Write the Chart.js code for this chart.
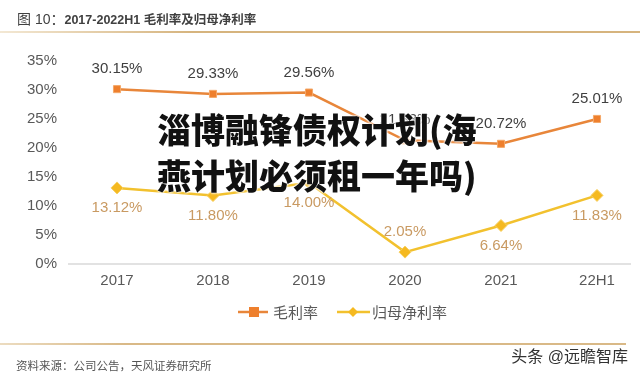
<!DOCTYPE html>
<html>
<head>
<meta charset="utf-8">
<script src="https://cdn.jsdelivr.net/npm/chart.js@4"></script>
<style>
  html, body { margin: 0; padding: 0; background: #fff; }
  .wrap { position: relative; width: 640px; height: 374px; overflow: hidden;
          font-family: "Liberation Sans", "Noto Sans CJK SC", sans-serif; }
  #myChart { position: absolute; left: 0; top: 0; }
  .title { position: absolute; left: 17px; top: 8px; color: #404040; white-space: nowrap; }
  .title .a { font-size: 14px; }
  .title .b { font-size: 12.5px; font-weight: bold; }
  .rule-top { position: absolute; left: 0; top: 31px; width: 640px; height: 2px;
              background: linear-gradient(to right, #f3e8d4, #d6b47e 30%, #d6b47e); }
  .rule-bottom { position: absolute; left: 0; top: 343px; width: 626px; height: 2px;
                 background: linear-gradient(to right, #ecdcc0, #d9b987 20%, #d9b987); }
  .source { position: absolute; left: 16px; top: 357px; font-size: 11.5px; color: #555; white-space: nowrap; }
  .mark { position: absolute; right: 12px; top: 343px; font-size: 16px; color: #333; white-space: nowrap; }
  .overlay { position: absolute; left: 157px; top: 106px; font-size: 34px; line-height: 46px;
             font-weight: 900; color: #111; font-family: "Noto Sans CJK SC", sans-serif; white-space: nowrap;
             text-shadow: 0 0 2px #fff, 0 0 2px #fff, 0 0 3px #fff; }
</style>
</head>
<body>
<div class="wrap">
  <canvas id="myChart" width="640" height="374"></canvas>
  <div class="title"><span class="a">图 10：</span><span class="b">2017-2022H1 毛利率及归母净利率</span></div>
  <div class="rule-top"></div>
  <div class="rule-bottom"></div>
  <div class="source">资料来源：公司公告，天风证券研究所</div>
  <div class="mark">头条 @远瞻智库</div>
  <div class="overlay">淄博融锋债权计划(海<br>燕计划必须租一年吗)</div>
</div>
<script>
// data
var years = ["2017", "2018", "2019", "2020", "2021", "22H1"];
var grossMargin = [30.15, 29.33, 29.56, 21.33, 20.72, 25.01];
var netMargin = [13.12, 11.80, 14.00, 2.05, 6.64, 11.83];
var yTicks = [0, 5, 10, 15, 20, 25, 30, 35];
var seriesNames = ["毛利率", "归母净利率"];

// label placement: -1 above the point, 1 below
var grossLabelSide = [-1, -1, -1, -1, -1, -1];
var netLabelSide = [1, 1, 1, -1, 1, 1];

var orange = '#e8863a';
var yellow = '#f2c12e';

// value labels + axis line + legend
const extras = {
  id: 'extras',
  beforeDatasetsDraw(chart) {
    const ctx = chart.ctx;
    const area = chart.chartArea;
    const y0 = chart.scales.y.getPixelForValue(0);
    ctx.save();
    ctx.strokeStyle = '#d9d9d9';
    ctx.lineWidth = 1.5;
    ctx.beginPath();
    ctx.moveTo(area.left - 49, y0);
    ctx.lineTo(area.right + 34, y0);
    ctx.stroke();
    ctx.restore();
  },
  afterDraw(chart) {
    const ctx = chart.ctx;
    ctx.save();
    ctx.font = '15px "Liberation Sans", sans-serif';
    ctx.textAlign = 'center';
    ctx.textBaseline = 'middle';
    const labelColors = ['#404040', '#c99a62'];
    const sides = [grossLabelSide, netLabelSide];
    chart.data.datasets.forEach((ds, d) => {
      const pts = chart.getDatasetMeta(d).data;
      ctx.fillStyle = labelColors[d];
      pts.forEach((pt, i) => {
        const txt = Number(ds.data[i]).toFixed(2) + '%';
        ctx.fillText(txt, pt.x, pt.y + sides[d][i] * 20);
      });
    });

    // legend
    const ly = 312;
    ctx.font = '15px "Noto Sans CJK SC", sans-serif';
    ctx.textAlign = 'left';
    ctx.lineWidth = 2.5;
    ctx.strokeStyle = orange;
    ctx.beginPath(); ctx.moveTo(238, ly); ctx.lineTo(268, ly); ctx.stroke();
    ctx.fillStyle = '#ee7f2d';
    ctx.fillRect(249, ly - 5, 10, 10);
    ctx.fillStyle = '#595959';
    ctx.fillText(seriesNames[0], 273, ly);
    ctx.strokeStyle = yellow;
    ctx.beginPath(); ctx.moveTo(337, ly); ctx.lineTo(370, ly); ctx.stroke();
    ctx.fillStyle = '#f5b920';
    ctx.beginPath();
    ctx.moveTo(353, ly - 5); ctx.lineTo(358, ly); ctx.lineTo(353, ly + 5); ctx.lineTo(348, ly);
    ctx.closePath(); ctx.fill();
    ctx.fillStyle = '#595959';
    ctx.fillText(seriesNames[1], 372, ly);
    ctx.restore();
  }
};

const data = {
  labels: years,
  datasets: [{
    label: seriesNames[0],
    data: grossMargin,
    borderColor: orange,
    backgroundColor: '#ee7f2d',
    borderWidth: 2.5,
    pointStyle: 'rect',
    pointRadius: 5,
    pointBorderColor: '#f4a868',
    pointBorderWidth: 1,
    tension: 0
  }, {
    label: seriesNames[1],
    data: netMargin,
    borderColor: yellow,
    backgroundColor: '#f5b920',
    borderWidth: 2.5,
    pointStyle: 'rectRot',
    pointRadius: 6,
    pointBorderColor: '#f7cf60',
    pointBorderWidth: 1,
    tension: 0
  }]
};

const config = {
  type: 'line',
  data: data,
  options: {
    responsive: false,
    animation: false,
    devicePixelRatio: 1,
    layout: { padding: { left: 0, right: 43, top: 61, bottom: 0 } },
    plugins: { legend: false, tooltip: { enabled: false } },
    scales: {
      x: {
        offset: false,
        grid: { display: false, drawTicks: false },
        border: { display: false },
        ticks: { color: '#595959', padding: 8, font: { size: 15, family: '"Liberation Sans", sans-serif' } },
        afterFit(scale) { scale.height = 110; }
      },
      y: {
        min: 0,
        max: 35,
        afterBuildTicks(scale) { scale.ticks = yTicks.map(v => ({ value: v })); },
        grid: { display: false, drawTicks: false },
        border: { display: false },
        ticks: {
          color: '#595959',
          padding: 60,
          font: { size: 15, family: '"Liberation Sans", sans-serif' },
          callback: v => v + '%'
        },
        afterFit(scale) {
          scale.width = 117;
          // tick padding is large only to push labels left; keep it out of the vertical layout
          scale.paddingTop = 9;
          scale.paddingBottom = 9;
        }
      }
    }
  },
  plugins: [extras]
};

const myChart = new Chart(document.getElementById('myChart'), config);
</script>
</body>
</html>
